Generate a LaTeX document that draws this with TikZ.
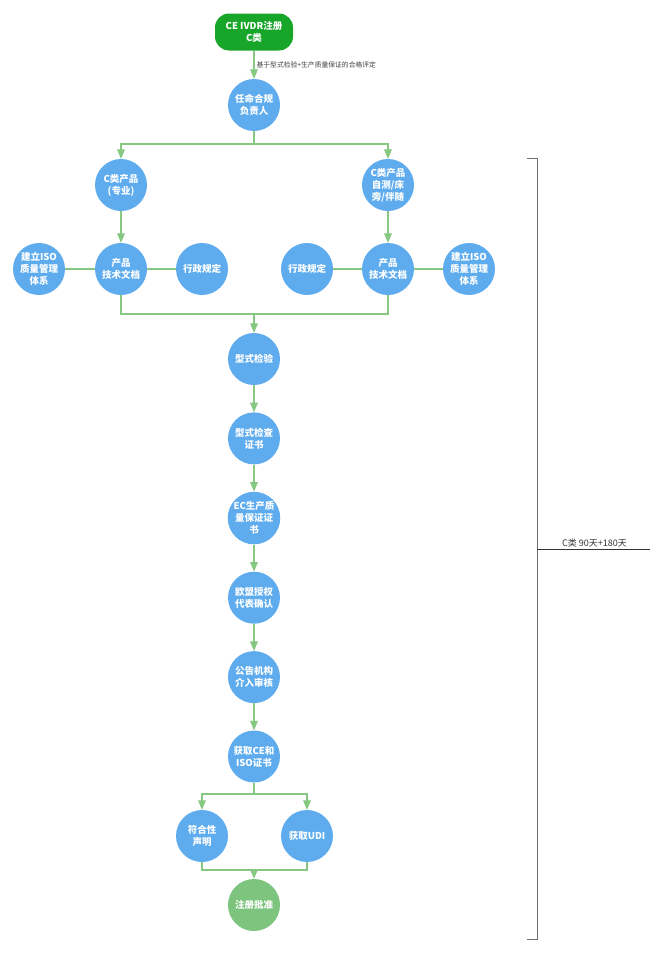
\documentclass[tikz,border=0pt]{standalone}
\usepackage{fontspec}
\setmainfont{Noto Sans CJK SC}
\usetikzlibrary{arrows, positioning, calc}
\definecolor{regcolor}{RGB}{24,166,42}
\definecolor{stepcolor}{RGB}{94,172,238}
\definecolor{donecolor}{RGB}{125,196,126}
\definecolor{flowcolor}{RGB}{134,200,130}
\definecolor{bracecolor}{RGB}{110,110,110}
\tikzset{
  stepnode/.style={circle, fill=#1, text=white, minimum size=52pt,
                   inner sep=0pt, align=center,
                   font=\bfseries\fontsize{9.5}{12}\selectfont},
  stepnode/.default=stepcolor,
  startnode/.style={rectangle, rounded corners=14pt, fill=regcolor,
                    text=white, minimum width=78pt, minimum height=37pt,
                    inner sep=0pt, align=center,
                    font=\bfseries\fontsize{9.5}{12}\selectfont},
  flow/.style={-triangle 45, line width=1.2pt, draw=flowcolor},
  link/.style={line width=1.2pt, draw=flowcolor},
  label/.style={font=\fontsize{6.8}{8}\selectfont, text=black!75, inner sep=2pt},
  brace/.style={line width=1pt, draw=bracecolor},
}

\begin{document}
\begin{tikzpicture}[x=1pt, y=-1pt, node distance=27pt]
  \useasboundingbox (0,0) rectangle (663,953);

  % --- Start ---
  \node[startnode] (reg) at (254,32) {CE IVDR注册\\C类};
  \node[stepnode] (appoint) at (254,105) {任命合规\\负责人};

  % --- Two product branches ---
  \coordinate (splitA) at (254,144);
  \node[stepnode] (prodA) at (121,185) {C类产品\\(专业)};
  \node[stepnode] (prodB) at (388,185) {C类产品\\自测/床\\旁/伴随};

  \node[stepnode] (docA) at (121,269) {产品\\技术文档};
  \node[stepnode] (isoA) at (39,269) {建立ISO\\质量管理\\体系};
  \node[stepnode] (ruleA) at (202,269) {行政规定};

  \node[stepnode] (docB) at (388,269) {产品\\技术文档};
  \node[stepnode] (ruleB) at (307,269) {行政规定};
  \node[stepnode] (isoB) at (469,269) {建立ISO\\质量管理\\体系};

  % --- Main chain ---
  \coordinate (mergeA) at (254,314);
  \node[stepnode] (typetest) at (254,359) {型式检验};
  \node[stepnode, below=of typetest] (typecert) {型式检查\\证书};
  \node[stepnode, below=of typecert] (eccert) {EC生产质\\量保证证\\书};
  \node[stepnode, below=of eccert] (eurep) {欧盟授权\\代表确认};
  \node[stepnode, below=of eurep] (notified) {公告机构\\介入审核};
  \node[stepnode, below=of notified] (getcert) {获取CE和\\ISO证书};

  % --- Final split ---
  \coordinate (splitB) at (254,794);
  \node[stepnode] (declare) at (202,836) {符合性\\声明};
  \node[stepnode] (udi) at (307,836) {获取UDI};
  \coordinate (mergeB) at (254,870);
  \node[stepnode=donecolor] (approve) at (254,905) {注册批准};

  % --- Arrows ---
  \draw[flow] (reg) -- node[label, right] {基于型式检验+生产质量保证的合格评定} (appoint);
  \draw[flow] (appoint) -- (splitA) -| (prodA);
  \draw[flow] (splitA) -| (prodB);
  \draw[flow] (prodA) -- (docA);
  \draw[flow] (prodB) -- (docB);
  \draw[link] (isoA) -- (docA) -- (ruleA);
  \draw[link] (ruleB) -- (docB) -- (isoB);
  \draw[link] (docA) |- (mergeA) -| (docB);
  \draw[flow] (mergeA) -- (typetest);
  \draw[flow] (typetest) -- (typecert);
  \draw[flow] (typecert) -- (eccert);
  \draw[flow] (eccert) -- (eurep);
  \draw[flow] (eurep) -- (notified);
  \draw[flow] (notified) -- (getcert);
  \draw[flow] (getcert) -- (splitB) -| (declare);
  \draw[flow] (splitB) -| (udi);
  \draw[link] (declare) |- (mergeB) -| (udi);
  \draw[flow] (mergeB) -- (approve);

  % --- Duration bracket ---
  \coordinate (braceTop) at (527,158);
  \coordinate (braceBot) at (527,939);
  \coordinate (braceMid) at (537,549);
  \coordinate (braceEnd) at (650,549);
  \draw[brace] (braceTop) -- ++(10,0) -- ($(braceBot)+(10,0)$) -- (braceBot);
  \draw[line width=0.8pt, draw=black!80] (braceMid) --
    node[above, font=\fontsize{9}{10}\selectfont, text=black!80, inner sep=1pt,
         xshift=1pt] {C类 90天+180天} (braceEnd);

\end{tikzpicture}
\end{document}
